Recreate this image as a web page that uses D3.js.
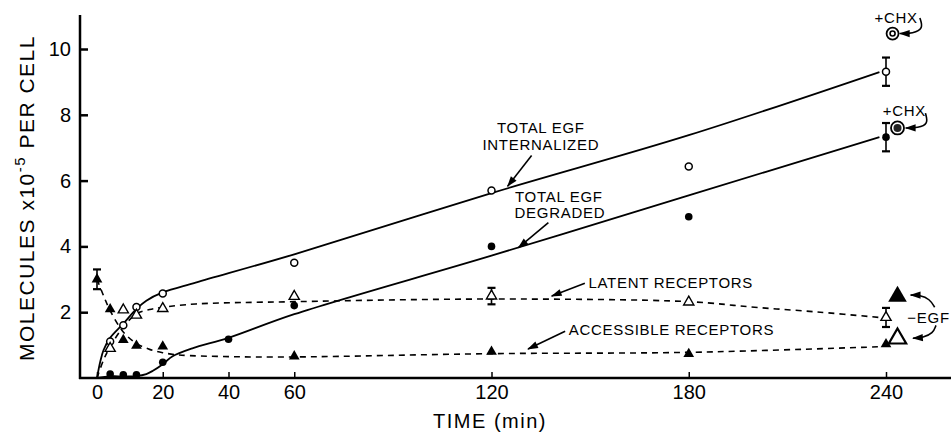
<!DOCTYPE html>
<html>
<head>
<meta charset="utf-8">
<script src="https://cdn.jsdelivr.net/npm/d3@7"></script>
<style>
  html, body { margin: 0; padding: 0; background: #fff; }
  svg text { font-family: "Liberation Sans", Arial, sans-serif; fill: #000; }
</style>
</head>
<body>
<div id="chart"></div>
<script>
// Measured points (minutes, molecules x 10^-5 per cell)
const internalizedT = [4, 8, 12, 20, 60, 120, 180, 240];
const internalizedV = [1.11, 1.6, 2.16, 2.57, 3.5, 5.7, 6.43, 9.31];
const degradedT = [4, 8, 12, 20, 40, 60, 120, 180, 240];
const degradedV = [0.12, 0.1, 0.1, 0.48, 1.18, 2.2, 4.0, 4.9, 7.32];
const latentT = [4, 8, 12, 20, 60, 120, 180, 240];
const latentV = [0.9, 2.07, 1.91, 2.11, 2.48, 2.49, 2.31, 1.84];
const accessibleT = [0, 4, 8, 12, 20, 60, 120, 180, 240];
const accessibleV = [3.0, 2.09, 1.16, 0.98, 0.96, 0.66, 0.8, 0.73, 1.03];

// Error bars: [time, value, half range]
const errorBars = [
    [240, 9.31, 0.43],
    [240, 7.32, 0.43],
    [120, 2.49, 0.25],
    [240, 1.84, 0.29],
    [0, 3.0, 0.3]
];

// Hand drawn fitted curves
const internalizedFitT = [0, 1, 2, 4, 8, 12, 15, 20, 30, 60, 120, 180, 238];
const internalizedFitV = [0, 0.5, 0.85, 1.22, 1.65, 2.1, 2.35, 2.6, 2.9, 3.76, 5.62, 7.38, 9.3];
const degradedFitT = [0, 4, 8, 12, 15, 17, 20, 23, 29, 40, 60, 120, 180, 238];
const degradedFitV = [0, 0.05, 0.05, 0.06, 0.12, 0.22, 0.42, 0.66, 0.9, 1.22, 1.94, 3.72, 5.55, 7.32];
const latentFitT = [0, 2, 4, 8, 12, 16, 20, 30, 60, 120, 180, 200, 220, 238];
const latentFitV = [0, 0.55, 0.95, 1.55, 1.95, 2.08, 2.15, 2.25, 2.32, 2.4, 2.32, 2.15, 2.0, 1.84];
const accessibleFitT = [0, 2, 4, 8, 12, 16, 20, 25, 40, 60, 120, 180, 238];
const accessibleFitV = [3.0, 2.5, 2.05, 1.4, 1.05, 0.87, 0.77, 0.7, 0.65, 0.64, 0.74, 0.78, 0.95];

// Treated samples
const chxInternalized = [242, 10.47];
const chxDegraded = [243.5, 7.6];
const egfLatent = [243.5, 2.48];
const egfAccessible = [243.5, 1.2];

const xTicks = [0, 20, 40, 60, 120, 180, 240];
const yTicks = [2, 4, 6, 8, 10];

const width = 951, height = 437;

const svg = d3.select('#chart')
    .append('svg')
    .attr('width', width)
    .attr('height', height);

const x = d3.scaleLinear().domain([0, 240]).range([97, 886]);
const y = d3.scaleLinear().domain([0, 10]).range([378, 49]);

const zip = (ts, vs) => ts.map((t, i) => [t, vs[i]]);

// arrow head
svg.append('defs').append('marker')
    .attr('id', 'arrow')
    .attr('viewBox', '0 -5 12 10')
    .attr('refX', 11)
    .attr('refY', 0)
    .attr('markerUnits', 'userSpaceOnUse')
    .attr('markerWidth', 12)
    .attr('markerHeight', 9)
    .attr('orient', 'auto')
    .append('path')
    .attr('d', 'M0,-4L12,0L0,4Z')
    .attr('fill', '#000');

// axes
const axisX = 80;
svg.append('line')
    .attr('x1', axisX).attr('y1', 15)
    .attr('x2', axisX).attr('y2', y(0) + 1)
    .attr('stroke', '#000').attr('stroke-width', 2.5);
svg.append('line')
    .attr('x1', axisX - 1).attr('y1', y(0))
    .attr('x2', width).attr('y2', y(0))
    .attr('stroke', '#000').attr('stroke-width', 2.5);

const yAxis = svg.append('g')
    .attr('transform', `translate(${axisX},0)`)
    .call(d3.axisLeft(y).tickValues(yTicks).tickSizeInner(-8).tickSizeOuter(0).tickPadding(9));
yAxis.select('.domain').remove();
yAxis.selectAll('line').attr('stroke-width', 2.5);
yAxis.selectAll('text').attr('font-size', 20).attr('font-family', '"Liberation Sans", Arial, sans-serif');

const xAxis = svg.append('g')
    .attr('transform', `translate(0,${y(0)})`)
    .call(d3.axisBottom(x).tickValues(xTicks).tickSizeInner(-6).tickSizeOuter(0).tickPadding(7));
xAxis.select('.domain').remove();
xAxis.selectAll('line').attr('stroke-width', 1.5);
xAxis.selectAll('text').attr('font-size', 20).attr('font-family', '"Liberation Sans", Arial, sans-serif');

// axis titles
svg.append('text')
    .attr('x', 490).attr('y', 428)
    .attr('text-anchor', 'middle')
    .attr('font-size', 20)
    .attr('letter-spacing', 1.5)
    .text('TIME (min)');

const yTitle = svg.append('text')
    .attr('transform', 'translate(34,198) rotate(-90)')
    .attr('text-anchor', 'middle')
    .attr('font-size', 21)
    .attr('letter-spacing', 1.5);
yTitle.append('tspan').text('MOLECULES x10');
yTitle.append('tspan').attr('dy', -9).attr('font-size', 15).text('-5');
yTitle.append('tspan').attr('dy', 9).text(' PER CELL');

// fitted curves
const line = d3.line()
    .x(d => x(d[0]))
    .y(d => y(d[1]))
    .curve(d3.curveCatmullRom.alpha(0.5));

const curves = [
    { data: zip(internalizedFitT, internalizedFitV), dash: null },
    { data: zip(degradedFitT, degradedFitV), dash: null },
    { data: zip(latentFitT, latentFitV), dash: '6,5' },
    { data: zip(accessibleFitT, accessibleFitV), dash: '6,5' }
];
curves.forEach(c => {
    svg.append('path')
        .attr('d', line(c.data))
        .attr('fill', 'none')
        .attr('stroke', '#000')
        .attr('stroke-width', c.dash ? 1.6 : 1.8)
        .attr('stroke-dasharray', c.dash);
});

// error bars
errorBars.forEach(([t, v, e]) => {
    const g = svg.append('g').attr('stroke', '#000').attr('stroke-width', 1.6);
    g.append('line').attr('x1', x(t)).attr('x2', x(t)).attr('y1', y(v - e)).attr('y2', y(v + e));
    g.append('line').attr('x1', x(t) - 4).attr('x2', x(t) + 4).attr('y1', y(v - e)).attr('y2', y(v - e)).attr('stroke-width', 2.2);
    g.append('line').attr('x1', x(t) - 4).attr('x2', x(t) + 4).attr('y1', y(v + e)).attr('y2', y(v + e)).attr('stroke-width', 2.2);
});

// markers
const tri = d3.symbol().type(d3.symbolTriangle);

svg.selectAll('.open-circle')
    .data(zip(internalizedT, internalizedV))
    .join('circle')
    .attr('cx', d => x(d[0])).attr('cy', d => y(d[1]))
    .attr('r', 3.5)
    .attr('fill', '#fff').attr('stroke', '#000').attr('stroke-width', 1.5);

svg.selectAll('.solid-circle')
    .data(zip(degradedT, degradedV))
    .join('circle')
    .attr('cx', d => x(d[0])).attr('cy', d => y(d[1]))
    .attr('r', 3.8)
    .attr('fill', '#000');

svg.selectAll('.open-tri')
    .data(zip(latentT, latentV))
    .join('path')
    .attr('transform', d => `translate(${x(d[0])},${y(d[1])})`)
    .attr('d', tri.size(45))
    .attr('fill', '#fff').attr('stroke', '#000').attr('stroke-width', 1.4);

svg.selectAll('.solid-tri')
    .data(zip(accessibleT, accessibleV))
    .join('path')
    .attr('transform', d => `translate(${x(d[0])},${y(d[1])})`)
    .attr('d', tri.size(50))
    .attr('fill', '#000');

// +CHX and -EGF samples
svg.append('circle').attr('cx', x(chxInternalized[0])).attr('cy', y(chxInternalized[1]))
    .attr('r', 6).attr('fill', '#fff').attr('stroke', '#000').attr('stroke-width', 1.8);
svg.append('circle').attr('cx', x(chxInternalized[0])).attr('cy', y(chxInternalized[1]))
    .attr('r', 2.5).attr('fill', '#fff').attr('stroke', '#000').attr('stroke-width', 1.6);
svg.append('circle').attr('cx', x(chxDegraded[0])).attr('cy', y(chxDegraded[1]))
    .attr('r', 6.5).attr('fill', '#fff').attr('stroke', '#000').attr('stroke-width', 1.8);
svg.append('circle').attr('cx', x(chxDegraded[0])).attr('cy', y(chxDegraded[1]))
    .attr('r', 4).attr('fill', '#222');
svg.append('path')
    .attr('transform', `translate(${x(egfLatent[0])},${y(egfLatent[1])})`)
    .attr('d', tri.size(150))
    .attr('fill', '#000');
svg.append('path')
    .attr('transform', `translate(${x(egfAccessible[0])},${y(egfAccessible[1])})`)
    .attr('d', tri.size(130))
    .attr('fill', '#fff').attr('stroke', '#000').attr('stroke-width', 2.2);

// annotations (placed in data units)
const labels = [
    { t: 135, v: 7.62, text: 'TOTAL EGF', anchor: 'middle' },
    { t: 135, v: 7.08, text: 'INTERNALIZED', anchor: 'middle' },
    { t: 140.5, v: 5.52, text: 'TOTAL EGF', anchor: 'middle' },
    { t: 140.8, v: 5.02, text: 'DEGRADED', anchor: 'middle' },
    { t: 149.5, v: 2.91, text: 'LATENT RECEPTORS', anchor: 'start' },
    { t: 143.5, v: 1.46, text: 'ACCESSIBLE RECEPTORS', anchor: 'start' },
    { t: 246.5, v: 1.85, text: '\u2212EGF', anchor: 'start' },
    { t: 236.5, v: 10.95, text: '+CHX', anchor: 'start' },
    { t: 239, v: 8.14, text: '+CHX', anchor: 'start' }
];
svg.selectAll('.label')
    .data(labels)
    .join('text')
    .attr('x', d => x(d.t)).attr('y', d => y(d.v))
    .attr('dy', '0.36em')
    .attr('text-anchor', d => d.anchor)
    .attr('font-size', 15)
    .attr('letter-spacing', 0.7)
    .text(d => d.text);

const straightArrows = [
    [[132.2, 6.76], [124.9, 5.83]],
    [[137.3, 4.72], [128.2, 3.96]],
    [[148.4, 2.88], [138.3, 2.49]],
    [[142.4, 1.42], [131.1, 0.88]]
];
straightArrows.forEach(a => {
    svg.append('line')
        .attr('x1', x(a[0][0])).attr('y1', y(a[0][1]))
        .attr('x2', x(a[1][0])).attr('y2', y(a[1][1]))
        .attr('stroke', '#000').attr('stroke-width', 1.6)
        .attr('marker-end', 'url(#arrow)');
});

const curvedArrows = [
    [[250.3, 10.94], [251.4, 10.62], [248.2, 10.47], [244.2, 10.47]],
    [[252.0, 8.05], [252.9, 7.72], [249.7, 7.6], [246.0, 7.6]],
    [[254.8, 2.15], [253.3, 2.4], [250.3, 2.52], [247.5, 2.52]],
    [[255.2, 1.6], [254.3, 1.36], [251.3, 1.23], [248.2, 1.21]]
];
const arrowLine = d3.line()
    .x(d => x(d[0]))
    .y(d => y(d[1]))
    .curve(d3.curveBasis);
curvedArrows.forEach(a => {
    svg.append('path')
        .attr('d', arrowLine(a))
        .attr('fill', 'none')
        .attr('stroke', '#000').attr('stroke-width', 1.6)
        .attr('marker-end', 'url(#arrow)');
});
</script>
</body>
</html>
